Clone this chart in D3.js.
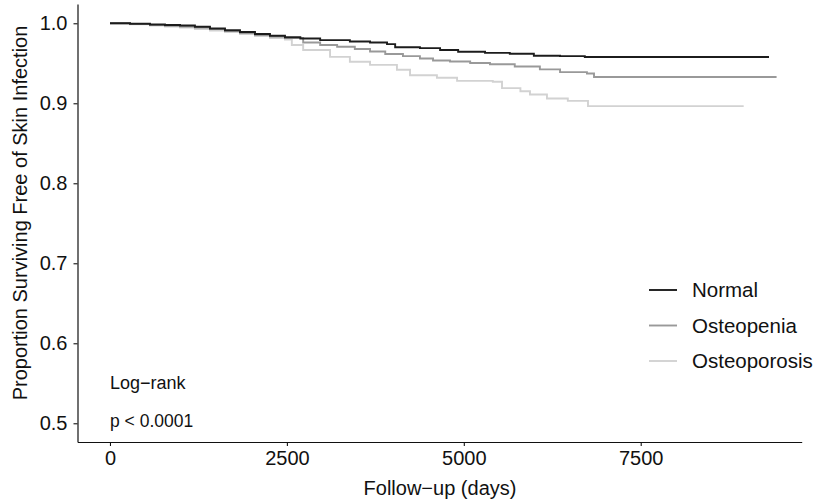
<!DOCTYPE html>
<html>
<head>
<meta charset="utf-8">
<script src="https://cdn.jsdelivr.net/npm/d3@7"></script>
<style>
  html, body { margin: 0; padding: 0; background: #fff; }
  svg { display: block; font-family: "Liberation Sans", Arial, sans-serif; }
</style>
</head>
<body>
<svg id="chart" width="822" height="502"></svg>
<script>
(() => {
  // Kaplan-Meier step points: [days, proportion]
  const normal = [
    [0, 1.0], [283, 0.9994], [565, 0.9985], [777, 0.9979], [990, 0.9972],
    [1200, 0.9956], [1413, 0.9935], [1625, 0.9912], [1837, 0.9891], [2049, 0.9866],
    [2261, 0.9845], [2473, 0.9825], [2690, 0.981], [2970, 0.979], [3390, 0.9772],
    [3675, 0.976], [3915, 0.974], [4030, 0.970], [4380, 0.969], [4665, 0.9666],
    [4920, 0.9645], [5300, 0.963], [5650, 0.962], [5990, 0.9594], [6360, 0.959],
    [6710, 0.9578], [9313, 0.9578]
  ];
  const osteopenia = [
    [0, 1.0], [283, 0.9991], [565, 0.9979], [777, 0.9969], [990, 0.996],
    [1200, 0.9947], [1413, 0.9929], [1625, 0.9904], [1837, 0.9879], [2049, 0.9854],
    [2261, 0.9835], [2473, 0.9816], [2730, 0.976], [2970, 0.9728], [3210, 0.9707],
    [3460, 0.9678], [3675, 0.9647], [3890, 0.9616], [4140, 0.959], [4380, 0.956],
    [4565, 0.9534], [4805, 0.9522], [5090, 0.9503], [5370, 0.9487], [5720, 0.946],
    [6075, 0.9424], [6360, 0.939], [6740, 0.9372], [6840, 0.9328], [9420, 0.9328]
  ];
  const osteoporosis = [
    [0, 1.0], [283, 0.9987], [565, 0.9972], [777, 0.996], [990, 0.9947],
    [1200, 0.9929], [1413, 0.991], [1625, 0.9891], [1837, 0.9866], [2049, 0.9841],
    [2261, 0.9816], [2473, 0.9797], [2570, 0.9728], [2730, 0.9666], [3110, 0.958],
    [3390, 0.952], [3675, 0.948], [4055, 0.942], [4240, 0.935], [4620, 0.932],
    [4905, 0.928], [5410, 0.927], [5540, 0.919], [5800, 0.915], [5935, 0.911],
    [6175, 0.906], [6470, 0.903], [6755, 0.8965], [8955, 0.8965]
  ];
  const groups = ["Normal", "Osteopenia", "Osteoporosis"];
  const groupColors = ["#1c1c1c", "#999999", "#d2d2d2"];
  const xTicks = [0, 2500, 5000, 7500];
  const yTicks = [0.5, 0.6, 0.7, 0.8, 0.9, 1.0];

  const series = [normal, osteopenia, osteoporosis].map((values, i) => ({
    key: groups[i], color: groupColors[i], values
  }));

  const panel = { left: 77.5, right: 801.7, top: 4, bottom: 442 };
  const fontSize = 20;
  const ink = "#111";

  const svg = d3.select("#chart");

  const x = d3.scaleLinear().domain([-459, 9775]).range([panel.left, panel.right]);
  const y = d3.scaleLinear().domain([0.4766, 1.0241]).range([panel.bottom, panel.top]);

  const xAxis = d3.axisBottom(x).tickValues(xTicks).tickSize(4).tickSizeOuter(0).tickPadding(5)
    .tickFormat(d3.format("d"));
  const yAxis = d3.axisLeft(y).tickValues(yTicks).tickSize(4).tickSizeOuter(0).tickPadding(6)
    .tickFormat(d3.format(".1f"));

  const styleAxis = g => {
    g.attr("font-family", null).attr("font-size", null);
    g.select(".domain").attr("stroke", ink).attr("stroke-width", 1.2);
    g.selectAll(".tick line").attr("stroke", ink).attr("stroke-width", 1.1);
    g.selectAll(".tick text").attr("fill", ink).style("font-size", fontSize + "px");
  };

  svg.append("g")
    .attr("transform", `translate(0,${panel.bottom})`)
    .call(xAxis)
    .call(styleAxis);

  svg.append("g")
    .attr("transform", `translate(${panel.left},0)`)
    .call(yAxis)
    .call(styleAxis);

  // axis titles
  svg.append("text")
    .attr("x", 440)
    .attr("y", 495)
    .attr("text-anchor", "middle")
    .attr("fill", ink)
    .style("font-size", fontSize + "px")
    .text("Follow\u2212up (days)");

  svg.append("text")
    .attr("transform", "translate(27,213) rotate(-90)")
    .attr("text-anchor", "middle")
    .attr("fill", ink)
    .style("font-size", fontSize + "px")
    .text("Proportion Surviving Free of Skin Infection");

  const line = d3.line()
    .x(d => x(d[0]))
    .y(d => y(d[1]))
    .curve(d3.curveStepAfter);

  svg.append("g")
    .attr("fill", "none")
    .attr("stroke-width", 1.9)
    .selectAll("path")
    .data(series.slice().reverse())
    .join("path")
    .attr("stroke", d => d.color)
    .attr("d", d => line(d.values));

  // log-rank annotation
  svg.append("text")
    .attr("x", x(0))
    .attr("y", 389)
    .attr("fill", ink)
    .style("font-size", "18px")
    .text("Log\u2212rank");
  svg.append("text")
    .attr("x", x(0))
    .attr("y", 427)
    .attr("fill", ink)
    .style("font-size", "17.5px")
    .text("p < 0.0001");

  // legend
  const legend = svg.append("g").attr("transform", "translate(649,290)");
  const item = legend.selectAll("g")
    .data(series)
    .join("g")
    .attr("transform", (d, i) => `translate(0,${i * 35.5})`);
  item.append("line")
    .attr("x1", 0).attr("x2", 28)
    .attr("stroke", d => d.color)
    .attr("stroke-width", 1.9);
  item.append("text")
    .attr("x", 43)
    .attr("dy", "0.35em")
    .attr("fill", ink)
    .style("font-size", "20.5px")
    .text(d => d.key);
})();
</script>
</body>
</html>
